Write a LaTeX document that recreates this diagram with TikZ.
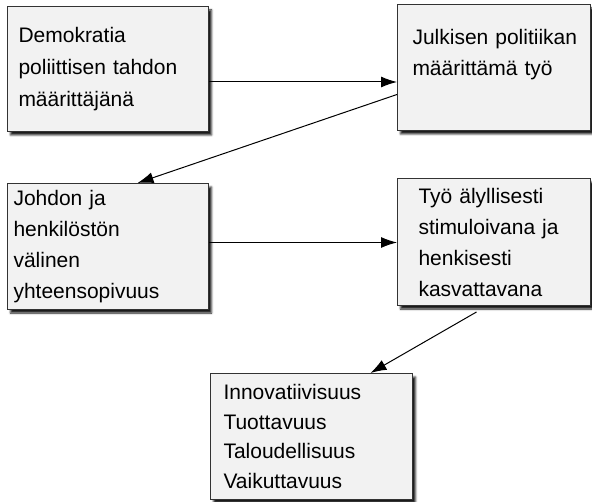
\documentclass[tikz,border=0pt]{standalone}
\usepackage{fontspec}
\setmainfont{Liberation Sans}
\usetikzlibrary{arrows.meta,positioning,shadows,shadows.blur}
\tikzset{
box/.style={draw=black!80,line width=1pt,fill=black!5,align=left,anchor=north west,inner ysep=0pt,
  font=\fontsize{21}{31}\selectfont,
  blur shadow={shadow xshift=3pt,shadow yshift=-3.5pt,shadow blur radius=2pt,shadow opacity=90}},
arrow/.style={-{Latex[length=16pt,width=11pt]},line width=1pt}
}
\begin{document}
\begin{tikzpicture}[x=1pt,y=-1pt]
\useasboundingbox (0,0) rectangle (592,502);
\node[box,inner xsep=11pt,text width=179pt,minimum height=125pt,font=\fontsize{21}{32}\selectfont] (demokratia) at (7,6) {Demokratia\\poliittisen tahdon\\määrittäjänä};
\node[box,inner xsep=15pt,text width=163pt,minimum height=126pt] (politiikka) at (397,4) {\mbox{Julkisen politiikan}\\määrittämä työ\\\mbox{}};
\node[box,inner xsep=6pt,text width=189pt,minimum height=126pt] (johto) at (7,183) {Johdon ja\\henkilöstön\\välinen\\yhteensopivuus};
\node[box,inner xsep=21pt,text width=151pt,minimum height=127pt] (tyo) at (397,178) {Työ älyllisesti\\stimuloivana ja\\henkisesti\\kasvattavana};
\node[box,inner xsep=13pt,text width=176pt,minimum height=126pt,font=\fontsize{21}{29.5}\selectfont] (tulokset) at (210,373) {Innovatiivisuus\\Tuottavuus\\Taloudellisuus\\Vaikuttavuus};

\draw[arrow] ([yshift=-13pt]demokratia.east) -- ([yshift=-13pt]demokratia.east -| politiikka.west);
\draw[arrow] ([yshift=-27pt]politiikka.west) -- ([xshift=29.5pt]johto.north);
\draw[arrow] ([yshift=4pt]johto.east) -- ([yshift=4pt]johto.east -| tyo.west);
\draw[arrow] ([xshift=-17.5pt,yshift=-6pt]tyo.south) -- ([xshift=59pt]tulokset.north);
\end{tikzpicture}
\end{document}
